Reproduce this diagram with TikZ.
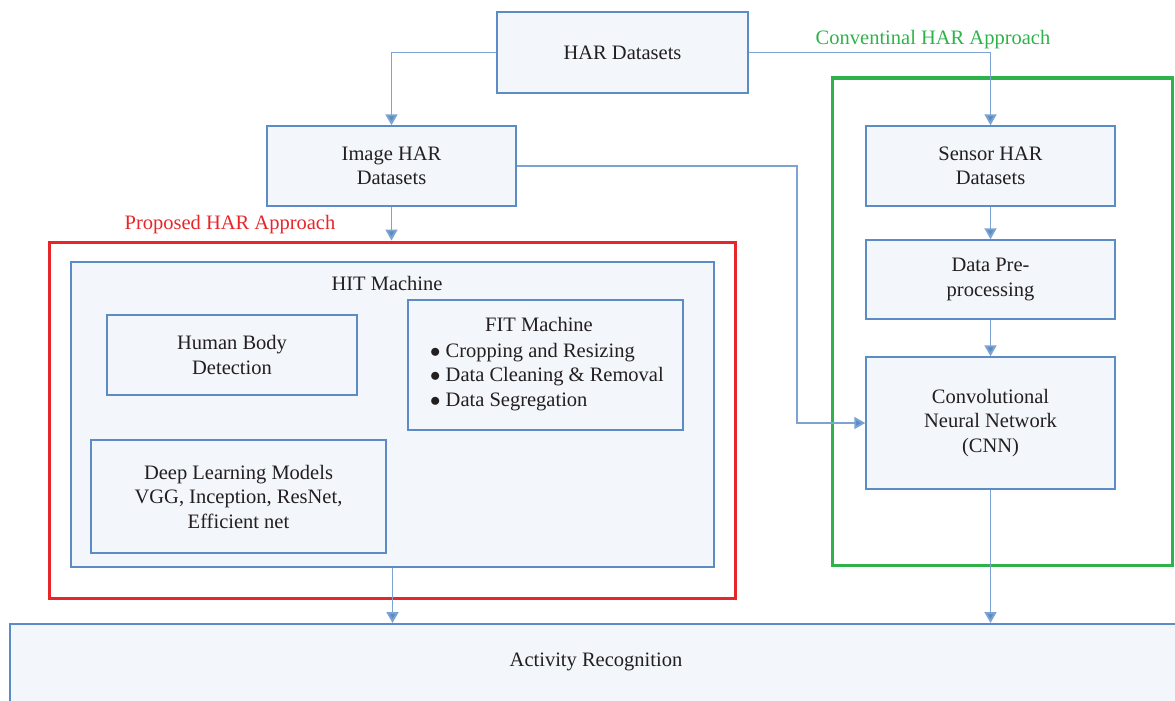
\documentclass[tikz,border=0pt]{standalone}
\usepackage{fontspec}
\setmainfont{Liberation Serif}
\usetikzlibrary{arrows.meta,positioning,calc}
\definecolor{bbl}{HTML}{5B8CC6}
\definecolor{bfill}{HTML}{F3F6FB}
\definecolor{rred}{HTML}{E8262A}
\definecolor{ggreen}{HTML}{2DB34A}
\definecolor{txt}{HTML}{231F20}
\tikzset{
  box/.style={draw=bbl, fill=bfill, line width=1.5pt, inner sep=0pt, align=center, text=txt, font=\fontsize{20.5}{24.5}\selectfont},
  lbl/.style={inner sep=0pt, align=center, text=txt, font=\fontsize{20.5}{24.5}\selectfont},
  conn/.style={draw=bbl!80, line width=1.9pt, -{Triangle[length=11pt,width=12pt,fill=bbl]}},
  group/.style={line width=3pt, inner sep=0pt}
}
\begin{document}
\begin{tikzpicture}[x=1pt,y=-1pt]
\useasboundingbox (0,0) rectangle (1175,701);
\begin{scope}
\clip (0,0) rectangle (1175,701);
% groups
\node[group, draw=ggreen, minimum width=340pt, minimum height=487pt] (green) at (1002,321.5) {};
\node[lbl, text=ggreen, anchor=center] (greenlbl) at (933,40) {Conventinal HAR Approach};
\node[group, draw=rred, minimum width=686pt, minimum height=356pt] (red) at (392,420) {};
\node[lbl, text=rred] (redlbl) at (230,225) {Proposed HAR Approach};
% boxes
\node[box, minimum width=251pt, minimum height=81pt] (har) at (622.5,52.5) {HAR Datasets};
\node[box, minimum width=249pt, minimum height=80pt] (img) at (391.5,166) {Image HAR\\Datasets};
\node[box, minimum width=249pt, minimum height=80pt] (sen) at (990.5,166) {Sensor HAR\\Datasets};
\node[box, minimum width=249pt, minimum height=79pt] (pre) at (990.5,279.5) {Data Pre-\\processing};
\node[box, minimum width=249pt, minimum height=132pt] (cnn) at (990.5,423) {Convolutional\\Neural Network\\(CNN)};
\node[box, minimum width=643pt, minimum height=305pt] (hit) at (392.5,414.5) {};
\node[lbl] (hitlbl) at (387,283) {HIT Machine};
\node[box, minimum width=250pt, minimum height=80pt] (hbd) at (232,355) {Human Body\\Detection};
\node[box, minimum width=275pt, minimum height=130pt] (fit) at (545.5,365) {};
\node[lbl] (fitlbl) at (539,324) {FIT Machine};
\node[lbl, align=left, anchor=north west] (fitlist) at (430,343) {$\bullet$ Cropping and Resizing\\$\bullet$ Data Cleaning \& Removal\\$\bullet$ Data Segregation};
\node[box, minimum width=295pt, minimum height=113pt] (dl) at (238.5,496.5) {Deep Learning Models\\VGG, Inception, ResNet,\\Efficient net};
\node[box, minimum width=1180pt, minimum height=100pt, anchor=north west] (act) at (9,623) {};
\node[lbl] (actlbl) at (596,662) {Activity Recognition};
% connectors
\draw[conn] (har.west) -| (img.north);
\draw[conn] (har.east) -| (sen.north);
\draw[conn] (img.south) -- (img.south |- red.north);
\draw[conn] (img.east) -- (797,166) |- (cnn.west);
\draw[conn] (sen.south) -- (pre.north);
\draw[conn] (pre.south) -- (cnn.north);
\draw[conn] (hit.south) -- (hit.south |- act.north);
\draw[conn] (cnn.south) -- (cnn.south |- act.north);
\end{scope}
\end{tikzpicture}
\end{document}
